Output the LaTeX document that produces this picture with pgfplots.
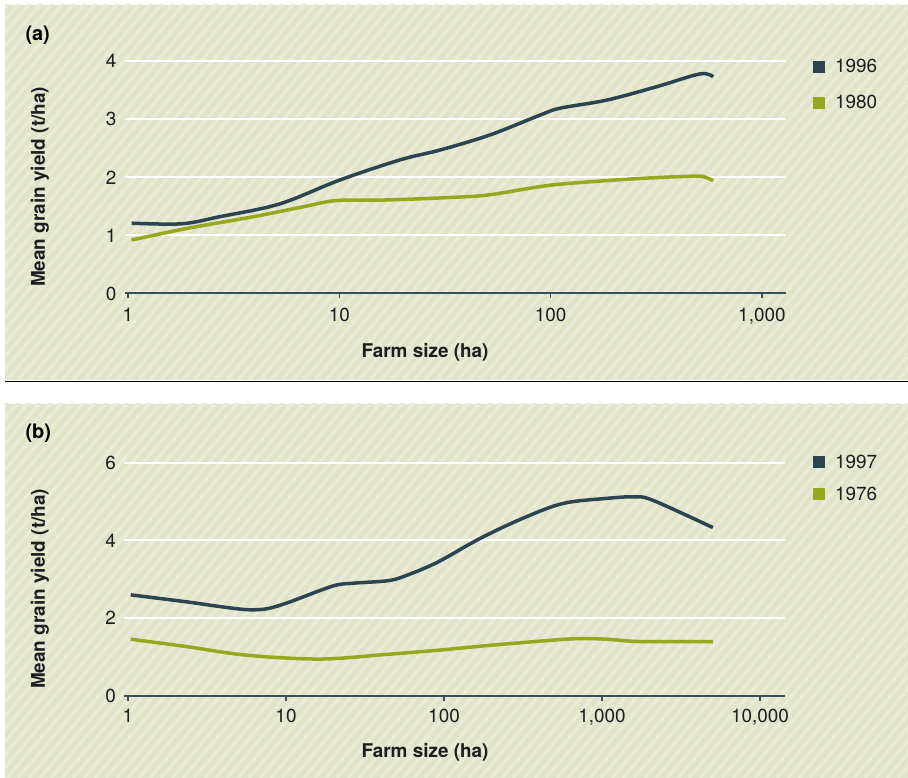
\documentclass[border=0pt]{standalone}
\usepackage{pgfplots}
\pgfplotsset{compat=1.18}
\usepackage{fontspec}
\setmainfont{TeX Gyre Heros}
\definecolor{bgc}{RGB}{225,228,201}
\definecolor{stripec}{RGB}{233,235,216}
\definecolor{darkc}{RGB}{44,67,80}
\definecolor{greenc}{RGB}{150,168,30}
\definecolor{axisc}{RGB}{60,78,88}
\definecolor{txtc}{RGB}{30,30,30}

\begin{document}
\begin{tikzpicture}[x=1bp,y=1bp]
\path[use as bounding box] (0,0) rectangle (908,778);
% panel backgrounds
\fill[bgc] (5,398) rectangle (908,773);
\fill[bgc] (5,0) rectangle (908,374);
\begin{scope}
\clip (5,398) rectangle (908,773);
\foreach \i in {0,...,120} {\draw[stripec, line width=3.5bp] (\i*11-400,398) -- ++(340,400);}
\end{scope}
\begin{scope}
\clip (5,0) rectangle (908,374);
\foreach \i in {0,...,120} {\draw[stripec, line width=3.5bp] (\i*11-400,0) -- ++(340,400);}
\end{scope}
\draw[black, line width=1.5bp] (5,396.5) -- (908,396.5);

% labels
\node[anchor=west, font=\fontsize{20}{24}\selectfont\bfseries] at (22,743) {(a)};
\node[anchor=west, font=\fontsize{20}{24}\selectfont\bfseries] at (22,345) {(b)};
\node[rotate=90, font=\fontsize{19}{22}\selectfont\bfseries, text=txtc] at (40,591) {Mean grain yield (t/ha)};
\node[rotate=90, font=\fontsize{19}{22}\selectfont\bfseries, text=txtc] at (40,189) {Mean grain yield (t/ha)};
\node[font=\fontsize{19}{22}\selectfont\bfseries, text=txtc] at (425,426) {Farm size (ha)};
\node[font=\fontsize{19}{22}\selectfont\bfseries, text=txtc] at (425,26) {Farm size (ha)};

% panel (a)
\begin{axis}[
  xmode=log,
  scale only axis,
  axis x line*=bottom,
  axis y line*=left,
  x axis line style={draw=axisc, line width=2bp, -},
  y axis line style={draw=none},
  ytick style={draw=none},
  xtick style={draw=axisc, line width=1.5bp},
  major tick length=5bp,
  tick align=outside,
  xminorticks=false,
  ymin=0,
  ymajorgrids,
  major grid style={white, line width=2bp},
  ticklabel style={font=\fontsize{19}{22}\selectfont, text=txtc},
  xticklabel style={yshift=-6bp},
  /pgf/number format/assume math mode=true,
  legend style={draw=none, fill=none, inner sep=0pt, font=\fontsize{19}{22}\selectfont,
    nodes={inner sep=2bp, text=txtc}},
  legend cell align=left,
  legend image code/.code={\fill[#1] (0bp,-4.3bp) rectangle (8.7bp,4.3bp); \path (17bp,0bp);},
  at={(124.8bp,484.5bp)}, anchor=south west,
  width=660.8bp, height=255.6bp,
  xmin=0.9657, xmax=1294.6, ymax=4.4,
  xtick={1,10,100,1000}, xticklabels={1,10,100,{1,000}},
  ytick={0,1,2,3,4},
  legend style={at={(axis description cs:1.0404,0.924)}, anchor=north west, row sep=17bp},
]
\addplot[line width=3.5bp, smooth, tension=0.55, no markers, darkc] coordinates {
(1.04,1.21) (1.8,1.20) (2.7,1.32) (5.2,1.54) (10,1.95) (19.4,2.30) (30,2.47) (51.7,2.73) (89,3.07) (111,3.19) (185,3.33) (318,3.56) (509,3.78) (588,3.73)};
\addlegendentry{1996}
\addplot[line width=3.5bp, smooth, tension=0.55, no markers, greenc] coordinates {
(1.04,0.92) (1.9,1.12) (3.9,1.32) (6.7,1.49) (9.7,1.60) (16.8,1.61) (37,1.66) (51.7,1.70) (89,1.84) (127,1.90) (265,1.98) (480,2.02) (540,2.00) (588,1.94)};
\addlegendentry{1980}
\end{axis}

% panel (b)
\begin{axis}[
  xmode=log,
  scale only axis,
  axis x line*=bottom,
  axis y line*=left,
  x axis line style={draw=axisc, line width=2bp, -},
  y axis line style={draw=none},
  ytick style={draw=none},
  xtick style={draw=axisc, line width=1.5bp},
  major tick length=5bp,
  tick align=outside,
  xminorticks=false,
  ymin=0,
  ymajorgrids,
  major grid style={white, line width=2bp},
  ticklabel style={font=\fontsize{19}{22}\selectfont, text=txtc},
  xticklabel style={yshift=-5bp},
  /pgf/number format/assume math mode=true,
  legend style={draw=none, fill=none, inner sep=0pt, font=\fontsize{19}{22}\selectfont,
    nodes={inner sep=2bp, text=txtc}},
  legend cell align=left,
  legend image code/.code={\fill[#1] (0bp,-4.3bp) rectangle (8.7bp,4.3bp); \path (17bp,0bp);},
  at={(124.3bp,82bp)}, anchor=south west,
  width=661bp, height=264.5bp,
  xmin=0.9475, xmax=14454, ymax=6.8,
  xtick={1,10,100,1000,10000}, xticklabels={1,10,100,{1,000},{10,000}},
  ytick={0,2,4,6},
  legend style={at={(axis description cs:1.0409,0.92)}, anchor=north west, row sep=13bp},
]
\addplot[line width=3.5bp, smooth, tension=0.55, no markers, darkc] coordinates {
(1.04,2.60) (2.35,2.42) (3.8,2.30) (5.6,2.22) (7.2,2.23) (8.8,2.31) (11.1,2.45) (19.9,2.83) (26.7,2.90) (43.4,2.96) (55.3,3.07) (90,3.43) (169,4.05) (316,4.57) (566,4.95) (1070,5.08) (1600,5.12) (2100,5.03) (5030,4.33)};
\addlegendentry{1997}
\addplot[line width=3.5bp, smooth, tension=0.55, no markers, greenc] coordinates {
(1.04,1.46) (2.35,1.27) (5.6,1.05) (16.4,0.95) (43.4,1.07) (94,1.18) (126,1.23) (250,1.34) (655,1.47) (1070,1.46) (1740,1.40) (5030,1.40)};
\addlegendentry{1976}
\end{axis}
\end{tikzpicture}
\end{document}
